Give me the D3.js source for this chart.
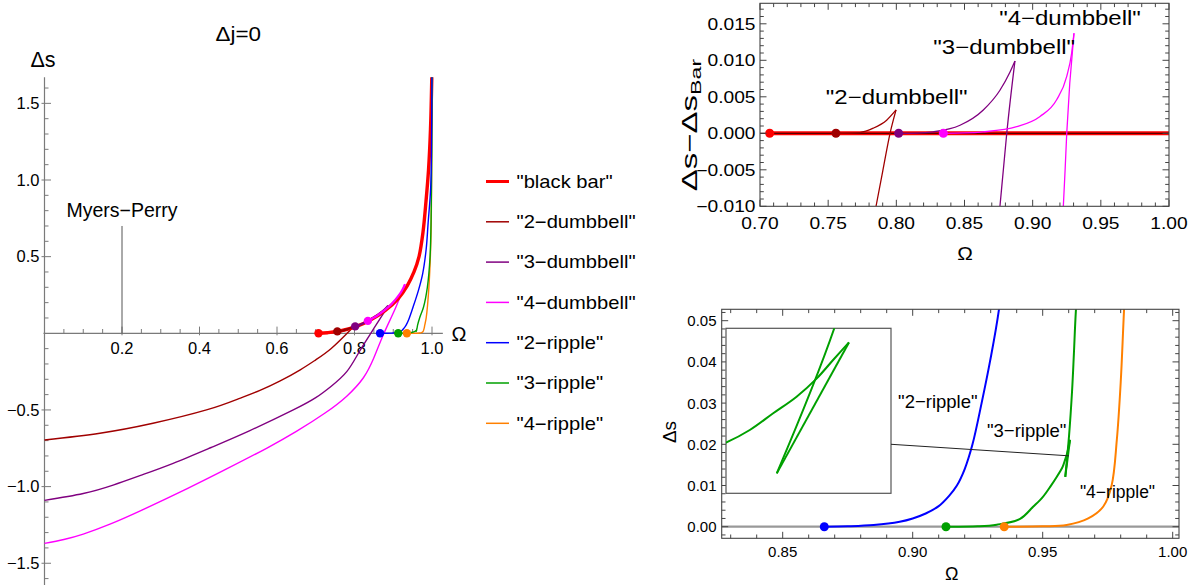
<!DOCTYPE html>
<html><head><meta charset="utf-8">
<script src="https://cdn.jsdelivr.net/npm/d3@7"></script>
<style>
body{margin:0;background:#fff}
svg{display:block}
text{font-family:"Liberation Sans",Arial,Helvetica,sans-serif}
</style>
</head><body>
<svg id="c" width="1195" height="585"></svg>
<script>
// ================= DATA =================
const seriesNames = ['"black bar"','"2\u2212dumbbell"','"3\u2212dumbbell"','"4\u2212dumbbell"','"2\u2212ripple"','"3\u2212ripple"','"4\u2212ripple"'];

// left panel: [Omega, Δs]
const blackBar = [[0.7071,0],[0.73,0.004],[0.7626,0.015],[0.8039,0.043],[0.840,0.085],[0.8787,0.148],[0.9123,0.225],[0.936,0.31],[0.9535,0.40],[0.9665,0.50],[0.9768,0.66],[0.9845,0.86],[0.9910,1.065],[0.9961,1.33],[0.9995,1.67]];
const dumbbell2Lower = [[0,-0.696],[0.143,-0.652],[0.28,-0.587],[0.418,-0.50],[0.50,-0.428],[0.556,-0.372],[0.607,-0.312],[0.66,-0.238],[0.70,-0.173],[0.74,-0.099],[0.781,0.0],[0.7975,0.043]];
const dumbbell2Upper = [[0.7557,0.0125],[0.77,0.0185],[0.78,0.0255],[0.79,0.0345],[0.7975,0.043]];
const dumbbell3Lower = [[0,-1.09],[0.1,-1.045],[0.177,-0.99],[0.25,-0.925],[0.332,-0.848],[0.43,-0.745],[0.53,-0.635],[0.642,-0.50],[0.70,-0.42],[0.74,-0.345],[0.78,-0.25],[0.81,-0.13],[0.842,0],[0.876,0.135],[0.887,0.18]];
const dumbbell3Upper = [[0.8017,0.045],[0.82,0.062],[0.84,0.089],[0.86,0.12],[0.876,0.151],[0.887,0.18]];
const dumbbell4Lower = [[0,-1.37],[0.05,-1.345],[0.1,-1.31],[0.169,-1.245],[0.25,-1.155],[0.367,-1.015],[0.47,-0.885],[0.573,-0.75],[0.65,-0.64],[0.724,-0.52],[0.78,-0.41],[0.823,-0.29],[0.85,-0.16],[0.876,0],[0.905,0.16],[0.9303,0.32]];
const dumbbell4Upper = [[0.8345,0.081],[0.86,0.118],[0.888,0.172],[0.905,0.218],[0.918,0.26],[0.925,0.29],[0.9303,0.32]];

// ripples (Δs), shared by left and lower-right panels
const ripple2 = [[0.866,0],[0.875,0.0001],[0.885,0.0004],[0.895,0.0012],[0.90,0.002],[0.905,0.0032],[0.910,0.005],[0.914,0.0075],[0.917,0.010],[0.920,0.014],[0.923,0.020],[0.9265,0.030],[0.9297,0.040],[0.9332,0.0528],[0.94,0.09],[0.951,0.17],[0.965,0.28],[0.976,0.39],[0.985,0.55],[0.990,0.72],[0.9966,0.95],[0.999,1.3],[0.9998,1.67]];
const ripple3Main = [[0.9128,0],[0.925,0.0001],[0.9323,0.0005],[0.9413,0.0019],[0.9464,0.0049],[0.950,0.0072],[0.9530,0.0098],[0.9555,0.0122],[0.9574,0.0142],[0.9580,0.01507],[0.95859,0.01622],[0.95918,0.01736],[0.95969,0.01862],[0.96010,0.01988],[0.96050,0.02109]];
const ripple3Back = [[0.95868,0.01209],[0.96050,0.02109]];
const ripple3Up = [[0.95868,0.01209],[0.96013,0.02206],[0.9613,0.033],[0.9620,0.042],[0.9628,0.0528],[0.968,0.10],[0.978,0.17],[0.988,0.30],[0.995,0.5],[0.998,0.8],[0.9995,1.2],[1.0,1.67]];
const ripple4 = [[0.9352,0],[0.950,0.0001],[0.9592,0.0004],[0.9675,0.002],[0.9733,0.0049],[0.9765,0.010],[0.9785,0.021],[0.980,0.035],[0.9813,0.0528],[0.985,0.1],[0.992,0.3],[0.997,0.6],[0.999,1.0],[1.0,1.67]];

// bifurcation points (dots)
const bifOmega = [0.7071,0.7557,0.8017,0.8345,0.866,0.9128,0.9352];
const bifDs    = [0,0.0125,0.045,0.081,0,0,0];

// upper-right panel: [Omega, Δs − Δs_Bar]
const diff2Upper = [[0.7557,0],[0.765,0.00002],[0.7733,0.0001],[0.7831,0.0007],[0.7929,0.0018],[0.7998,0.0032]];
const diff2Lower = [[0.7851,-0.0100],[0.7900,-0.0052],[0.7954,0],[0.7998,0.0032]];
const diff3Upper = [[0.8017,0],[0.815,0.00003],[0.8271,0.0002],[0.8467,0.0011],[0.8638,0.0032],[0.876,0.0059],[0.8834,0.0084],[0.8870,0.0099]];
const diff3Lower = [[0.8760,-0.0100],[0.8785,-0.0050],[0.8810,0],[0.8870,0.0099]];
const diff4Upper = [[0.8345,0],[0.85,0.00005],[0.8638,0.0002],[0.8883,0.0009],[0.9054,0.0023],[0.9176,0.0046],[0.925,0.0078],[0.9286,0.011],[0.9303,0.0137]];
const diff4Lower = [[0.9225,-0.0100],[0.9238,-0.0050],[0.9250,0],[0.9303,0.0137]];

// ticks
const leftXTicks = [0.2,0.4,0.6,0.8,1.0];
const leftYTicks = [-1.5,-1.0,-0.5,0.5,1.0,1.5];
const trXTicks = [0.70,0.75,0.80,0.85,0.90,0.95,1.00];
const trYTicks = [-0.010,-0.005,0.000,0.005,0.010,0.015];
const brXTicks = [0.85,0.90,0.95,1.00];
const brYTicks = [0.00,0.01,0.02,0.03,0.04,0.05];

// annotation
const myersPerryOmega = 0.2, myersPerryTop = 0.70;
const pointerTarget = [0.9601, 0.0172];

// ================= STYLE / LAYOUT =================
const colors = ['#ff0000','#a00000','#800080','#ff00ff','#0000ff','#00a000','#ff8000'];
const svg = d3.select('#c');
const minus = s => s.replace('-', '\u2212');
const smooth = d3.curveCatmullRom.alpha(0.5);

function txt(g, x, y, s, size, opt = {}) {
  const sx = opt.sx || 1, sy = opt.sy || 1, rot = opt.rot ? ` rotate(${opt.rot})` : '';
  return g.append('text')
    .attr('transform', `translate(${x},${y}) scale(${sx},${sy})${rot}`)
    .attr('font-size', size)
    .attr('text-anchor', opt.anchor || 'start')
    .attr('fill', opt.fill || '#000')
    .text(s);
}
const range = (a, b, s) => d3.range(Math.round(a / s), Math.round(b / s) + 1).map(i => +(i * s).toFixed(6));

// ================= LEFT PANEL =================
const xL = d3.scaleLinear().domain([0, 1]).range([44.5, 432]);
const yL = d3.scaleLinear().domain([0, 1]).range([333.3, 180]);
const gL = svg.append('g');
gL.append('clipPath').attr('id', 'clipL').append('rect').attr('x', 30).attr('y', 76).attr('width', 420).attr('height', 520);

const axisCol = '#7a7a7a';
gL.append('line').attr('x1', xL(0)).attr('x2', xL(0)).attr('y1', yL(1.67)).attr('y2', 590).attr('stroke', axisCol).attr('stroke-width', 1.2);
gL.append('line').attr('x1', xL(0) - 1).attr('x2', xL(1.028)).attr('y1', yL(0)).attr('y2', yL(0)).attr('stroke', axisCol).attr('stroke-width', 1.2);
const yMinorL = range(-1.6, 1.6, 0.1).filter(v => Math.abs(v) > 1e-9 && !leftYTicks.some(t => Math.abs(t - v) < 1e-9));
gL.selectAll('.ymin').data(yMinorL).join('line').attr('x1', xL(0)).attr('x2', xL(0) + 4).attr('y1', d => yL(d)).attr('y2', d => yL(d)).attr('stroke', axisCol);
gL.selectAll('.ymaj').data(leftYTicks).join('line').attr('x1', xL(0) - 3).attr('x2', xL(0) + 6.5).attr('y1', d => yL(d)).attr('y2', d => yL(d)).attr('stroke', axisCol);
leftYTicks.forEach(d => txt(gL, 39.5, yL(d) + 5.8, minus(d3.format('.1f')(d)), 16.5, {anchor: 'end'}));
const xMinorL = range(0.05, 1.0, 0.05).filter(v => !leftXTicks.some(t => Math.abs(t - v) < 1e-9));
gL.selectAll('.xmin').data(xMinorL).join('line').attr('x1', d => xL(d)).attr('x2', d => xL(d)).attr('y1', yL(0)).attr('y2', yL(0) - 4.3).attr('stroke', axisCol);
gL.selectAll('.xmaj').data(leftXTicks).join('line').attr('x1', d => xL(d)).attr('x2', d => xL(d)).attr('y1', yL(0) + 2).attr('y2', yL(0) - 6.7).attr('stroke', axisCol);
leftXTicks.forEach(d => txt(gL, xL(d), 353.5, d3.format('.1f')(d), 16.5, {anchor: 'middle'}));

txt(gL, 238.3, 41, '\u0394j=0', 19.5, {anchor: 'middle', sx: 1.15});
txt(gL, 30.5, 66.5, '\u0394s', 21.5);
txt(gL, 451.5, 340.5, '\u03A9', 20);

gL.append('line').attr('x1', xL(myersPerryOmega)).attr('x2', xL(myersPerryOmega)).attr('y1', yL(myersPerryTop)).attr('y2', yL(0)).attr('stroke', '#555').attr('stroke-width', 1);
txt(gL, xL(myersPerryOmega), 216.5, 'Myers\u2212Perry', 19.5, {anchor: 'middle'});

const lineL = d3.line().x(d => xL(d[0])).y(d => yL(d[1])).curve(smooth);
const lineLN = d3.line().x(d => xL(d[0])).y(d => yL(d[1])).curve(d3.curveNatural);
const cL = gL.append('g').attr('clip-path', 'url(#clipL)');
const pathL = (data, col, w, gen = lineL) => cL.append('path').attr('d', gen(data)).attr('fill', 'none').attr('stroke', col).attr('stroke-width', w).attr('stroke-linejoin', 'round');

pathL(dumbbell2Lower, colors[1], 1.4, lineLN);
pathL(dumbbell3Lower, colors[2], 1.4, lineLN);
pathL(dumbbell4Lower, colors[3], 1.4, lineLN);
pathL(blackBar, colors[0], 3.4);
pathL(ripple4, colors[6], 1.4);
pathL(ripple3Main, colors[5], 1.4);
pathL(ripple3Back, colors[5], 1.4);
pathL(ripple3Up, colors[5], 1.4);
pathL(ripple2, colors[4], 1.4);
pathL(dumbbell2Upper, colors[1], 2.2);
pathL(dumbbell3Upper, colors[2], 2.2);
pathL(dumbbell4Upper, colors[3], 2.2);
cL.selectAll('.dotL').data(bifOmega).join('circle').attr('cx', d => xL(d)).attr('cy', (d, i) => yL(bifDs[i])).attr('r', 4.2).attr('fill', (d, i) => colors[i]);

const gLeg = svg.append('g');
seriesNames.forEach((n, i) => {
  const y = 181.5 + i * 40.3;
  gLeg.append('line').attr('x1', 486).attr('x2', 509).attr('y1', y).attr('y2', y).attr('stroke', colors[i]).attr('stroke-width', i === 0 ? 3 : 1.5);
  txt(gLeg, 516.5, y + 6.3, n, 18, {sx: 1.12});
});

// ================= TOP RIGHT PANEL =================
const xT = d3.scaleLinear().domain([0.70, 1.00]).range([760, 1169]);
const yT = d3.scaleLinear().domain([0, 0.01]).range([133.3, 60.3]);
const fT = {x0: 760, x1: 1169, y0: 3.3, y1: 206.3};
const gT = svg.append('g');
gT.append('clipPath').attr('id', 'clipT').append('rect').attr('x', fT.x0).attr('y', fT.y0).attr('width', fT.x1 - fT.x0).attr('height', fT.y1 - fT.y0);
const frameCol = '#444';

const lineT = d3.line().x(d => xT(d[0])).y(d => yT(d[1])).curve(d3.curveMonotoneX);
const cT = gT.append('g').attr('clip-path', 'url(#clipT)');
const pathT = (data, col, w) => cT.append('path').attr('d', lineT(data)).attr('fill', 'none').attr('stroke', col).attr('stroke-width', w);
cT.append('line').attr('x1', xT(bifOmega[0])).attr('x2', fT.x1).attr('y1', yT(0)).attr('y2', yT(0)).attr('stroke', colors[0]).attr('stroke-width', 4);
cT.append('line').attr('x1', fT.x0).attr('x2', fT.x1).attr('y1', yT(0)).attr('y2', yT(0)).attr('stroke', '#5a0000').attr('stroke-width', 1.3);
pathT(diff2Upper, colors[1], 1.3); pathT(diff2Lower, colors[1], 1.3);
pathT(diff3Upper, colors[2], 1.3); pathT(diff3Lower, colors[2], 1.3);
pathT(diff4Upper, colors[3], 1.3); pathT(diff4Lower, colors[3], 1.3);
cT.selectAll('.dotT').data(bifOmega.slice(0, 4)).join('circle').attr('cx', d => xT(d)).attr('cy', yT(0)).attr('r', 4.5).attr('fill', (d, i) => colors[i]);

gT.append('rect').attr('x', fT.x0).attr('y', fT.y0).attr('width', fT.x1 - fT.x0).attr('height', fT.y1 - fT.y0).attr('fill', 'none').attr('stroke', frameCol).attr('stroke-width', 1.1);
function frameTicks(g, f, xs, xMaj, ys, yMaj, xScale, yScale) {
  const maj = 6.5, mn = 3.8;
  const isMaj = (arr, v) => arr.some(t => Math.abs(t - v) < 1e-9);
  xs.forEach(v => {
    const L = isMaj(xMaj, v) ? maj : mn, x = xScale(v);
    if (x < f.x0 - 0.5 || x > f.x1 + 0.5) return;
    g.append('line').attr('x1', x).attr('x2', x).attr('y1', f.y1).attr('y2', f.y1 - L).attr('stroke', frameCol);
    g.append('line').attr('x1', x).attr('x2', x).attr('y1', f.y0).attr('y2', f.y0 + L).attr('stroke', frameCol);
  });
  ys.forEach(v => {
    const L = isMaj(yMaj, v) ? maj : mn, y = yScale(v);
    if (y < f.y0 - 0.5 || y > f.y1 + 0.5) return;
    g.append('line').attr('x1', f.x0).attr('x2', f.x0 + L).attr('y1', y).attr('y2', y).attr('stroke', frameCol);
    g.append('line').attr('x1', f.x1).attr('x2', f.x1 - L).attr('y1', y).attr('y2', y).attr('stroke', frameCol);
  });
}
frameTicks(gT, fT, range(0.70, 1.00, 0.01), trXTicks, range(-0.010, 0.017, 0.001), trYTicks, xT, yT);
trXTicks.forEach(d => txt(gT, xT(d), 229.3, d3.format('.2f')(d), 16, {anchor: 'middle', sx: 1.2}));
trYTicks.forEach(d => txt(gT, 755.5, yT(d) + 5.7, minus(d3.format('.3f')(d)), 16, {anchor: 'end', sx: 1.2}));
txt(gT, 965, 260, '\u03A9', 19, {anchor: 'middle', sx: 1.1});
const ylab = txt(gT, 697, 125, '', 22, {anchor: 'middle', sy: 1.5, rot: -90});
ylab.append('tspan').text('\u0394s\u2212\u0394s');
ylab.append('tspan').attr('font-size', 15.5).attr('dy', 4).text('Bar');
txt(gT, 896.7, 103.5, seriesNames[1], 20, {anchor: 'middle', sx: 1.2});
txt(gT, 1004.2, 53.5, seriesNames[2], 20, {anchor: 'middle', sx: 1.2});
txt(gT, 1070, 24.5, seriesNames[3], 20, {anchor: 'middle', sx: 1.2});

// ================= BOTTOM RIGHT PANEL =================
const xB = d3.scaleLinear().domain([0.85, 1.00]).range([782.7, 1172.7]);
const yB = d3.scaleLinear().domain([0, 0.05]).range([526.7, 320.7]);
const fB = {x0: 721.7, x1: 1179, y0: 309.3, y1: 538.3};
const gB = svg.append('g');
gB.append('clipPath').attr('id', 'clipB').append('rect').attr('x', fB.x0).attr('y', fB.y0).attr('width', fB.x1 - fB.x0).attr('height', fB.y1 - fB.y0);
const cB = gB.append('g').attr('clip-path', 'url(#clipB)');
cB.append('line').attr('x1', fB.x0).attr('x2', fB.x1).attr('y1', yB(0)).attr('y2', yB(0)).attr('stroke', '#999').attr('stroke-width', 2.2);
const lineB = d3.line().x(d => xB(d[0])).y(d => yB(d[1])).curve(smooth);
const pathB = (data, col, w) => cB.append('path').attr('d', lineB(data)).attr('fill', 'none').attr('stroke', col).attr('stroke-width', w);
pathB(ripple2, colors[4], 2);
pathB(ripple3Main, colors[5], 2); pathB(ripple3Back, colors[5], 2); pathB(ripple3Up, colors[5], 2);
pathB(ripple4, colors[6], 2);
cB.selectAll('.dotB').data(bifOmega.slice(4)).join('circle').attr('cx', d => xB(d)).attr('cy', yB(0)).attr('r', 4.5).attr('fill', (d, i) => colors[i + 4]);

gB.append('rect').attr('x', fB.x0).attr('y', fB.y0).attr('width', fB.x1 - fB.x0).attr('height', fB.y1 - fB.y0).attr('fill', 'none').attr('stroke', frameCol).attr('stroke-width', 1.1);
frameTicks(gB, fB, range(0.83, 1.00, 0.01), brXTicks, range(-0.002, 0.052, 0.002), brYTicks, xB, yB);
brXTicks.forEach(d => txt(gB, xB(d), 557.3, d3.format('.2f')(d), 15, {anchor: 'middle'}));
brYTicks.forEach(d => txt(gB, 716.5, yB(d) + 5.4, d3.format('.2f')(d), 15, {anchor: 'end'}));
txt(gB, 951.7, 580, '\u03A9', 18, {anchor: 'middle'});
txt(gB, 676, 432, '\u0394s', 19, {anchor: 'middle', rot: -90});

// inset
const fI = {x0: 726, x1: 891, y0: 328.3, y1: 493.3};
const xI = d3.scaleLinear().domain([0.9574, 0.96156]).range([fI.x0, fI.x1]);
const yI = d3.scaleLinear().domain([0.01072, 0.02206]).range([fI.y1, fI.y0]);
gB.append('rect').attr('x', fI.x0).attr('y', fI.y0).attr('width', fI.x1 - fI.x0).attr('height', fI.y1 - fI.y0).attr('fill', '#fff').attr('stroke', '#555').attr('stroke-width', 1.2);
gB.append('clipPath').attr('id', 'clipI').append('rect').attr('x', fI.x0).attr('y', fI.y0).attr('width', fI.x1 - fI.x0).attr('height', fI.y1 - fI.y0);
const cI = gB.append('g').attr('clip-path', 'url(#clipI)');
const lineI = d3.line().x(d => xI(d[0])).y(d => yI(d[1])).curve(smooth);
[ripple3Main, ripple3Back, ripple3Up].forEach(dd => cI.append('path').attr('d', lineI(dd)).attr('fill', 'none').attr('stroke', colors[5]).attr('stroke-width', 2));
gB.append('line').attr('x1', fI.x1).attr('y1', fI.y0 + 0.703 * (fI.y1 - fI.y0)).attr('x2', xB(pointerTarget[0])).attr('y2', yB(pointerTarget[1])).attr('stroke', '#222').attr('stroke-width', 1);

txt(gB, 937.8, 408.3, seriesNames[4], 18.5, {anchor: 'middle'});
txt(gB, 1026.7, 437.3, seriesNames[5], 18.5, {anchor: 'middle'});
txt(gB, 1117.5, 498.3, seriesNames[6], 17.5, {anchor: 'middle'});
</script>
</body></html>
